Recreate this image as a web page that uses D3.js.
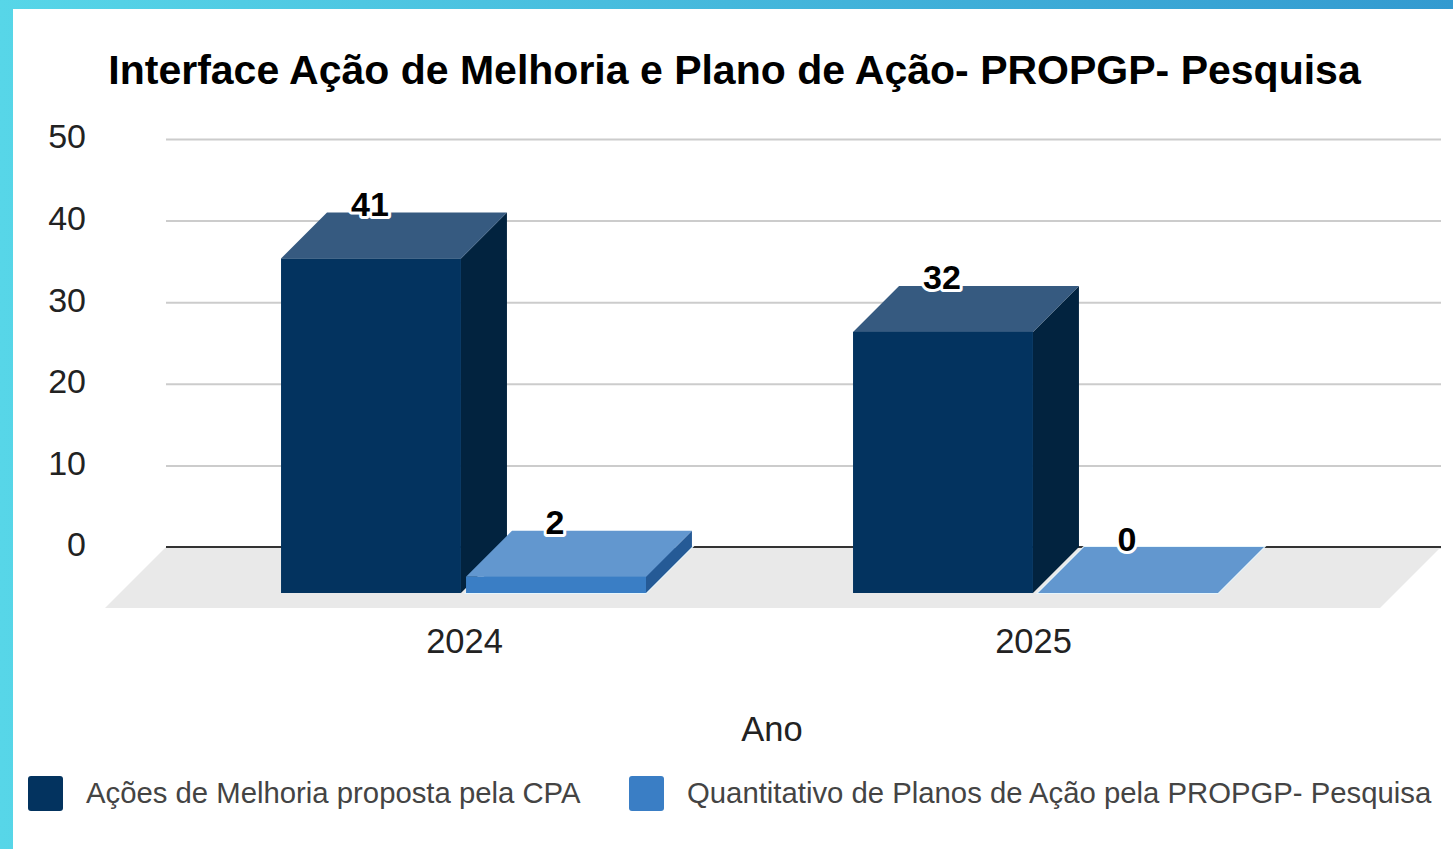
<!DOCTYPE html>
<html><head><meta charset="utf-8">
<script src="https://cdn.jsdelivr.net/npm/d3@7/dist/d3.min.js"></script>
<style>
html,body{margin:0;padding:0;background:#fff;overflow:hidden}
text{font-family:"Liberation Sans",Arial,sans-serif}
</style></head><body><svg id="c" width="1453" height="849"></svg>
<script>
const titleText = "Interface Ação de Melhoria e Plano de Ação- PROPGP- Pesquisa";
const xTitle = "Ano";
const categories = ["2024", "2025"];
const seriesNames = ["Ações de Melhoria proposta pela CPA", "Quantitativo de Planos de Ação pela PROPGP- Pesquisa"];
const melhoria = [41, 32];
const planos = [2, 0];
const yTicks = [0, 10, 20, 30, 40, 50];

const seriesValues = [melhoria, planos];
const W = 1453, H = 849;
const depth = 46, floorDepth = 61;
const svg = d3.select("#c");

const defs = svg.append("defs");
const g = defs.append("linearGradient").attr("id", "frame");
g.append("stop").attr("offset", "0").attr("stop-color", "#57d6e8");
g.append("stop").attr("offset", "1").attr("stop-color", "#339ad0");
svg.append("rect").attr("width", W).attr("height", H).attr("fill", "url(#frame)");
svg.append("rect").attr("x", 13).attr("y", 9).attr("width", W - 13).attr("height", H - 9).attr("fill", "#fff");

const y = d3.scaleLinear().domain([0, 50]).range([547, 139]);
const x0 = d3.scaleBand().domain(categories).range([177.5, 1321.5]).paddingInner(0.362).paddingOuter(0.181);
const x1 = d3.scaleBand().domain(seriesNames).range([0, x0.bandwidth()]).paddingInner(0.0274);
const xLabels = d3.scalePoint().domain(categories).range([464, 1033]);
const palette = d3.scaleOrdinal().domain(seriesNames).range([
  {front: "#03335f", side: "#02233f", top: "#365a80"},
  {front: "#3a7ec5", side: "#255a96", top: "#6297cf"}
]);

// title
svg.append("text").attr("x", 734.5).attr("y", 84).attr("text-anchor", "middle")
  .attr("font-size", 41).attr("font-weight", 700).attr("fill", "#000").text(titleText);

// gridlines and y labels through the axis
const yAxis = svg.append("g").attr("transform", "translate(166,0)")
  .call(d3.axisLeft(y).tickValues(yTicks).tickSize(-1275).tickPadding(80));
yAxis.select(".domain").remove();
yAxis.selectAll(".tick line").attr("stroke", "#cccccc").attr("stroke-width", 2);
yAxis.selectAll(".tick text").attr("font-size", 34).attr("fill", "#222").attr("dy", "0.26em")
  .attr("font-family", '"Liberation Sans",Arial,sans-serif');

// floor
const base = y(0);
svg.append("polygon")
  .attr("points", [[166, base], [1441, base], [1441 - floorDepth, base + floorDepth], [166 - floorDepth, base + floorDepth]].join(" "))
  .attr("fill", "#e9e9e9");
svg.append("line").attr("x1", 166).attr("x2", 1441).attr("y1", base).attr("y2", base)
  .attr("stroke", "#333").attr("stroke-width", 2);

// bars
const pts = a => a.map(p => p.join(",")).join(" ");
const bars = [];
categories.forEach((c, i) => seriesNames.forEach((s, j) => bars.push({c, s, j, v: seriesValues[j][i]})));
const gb = svg.selectAll("g.bar").data(bars).join("g").attr("class", "bar");
gb.each(function (d) {
  const sel = d3.select(this), col = palette(d.s);
  const xl = x0(d.c) + x1(d.s), w = x1.bandwidth(), xr = xl + w;
  const bot = y(0) + depth, top = y(d.v) + depth;
  if (d.j === 1) {
    sel.append("polygon")
      .attr("points", pts([[xl, bot], [xr, bot], [xr + depth, bot - depth], [xl + depth, bot - depth]]))
      .attr("fill", col.top).attr("stroke", "#e6f5fc").attr("stroke-width", 2);
  }
  if (d.v > 0) {
    sel.append("polygon").attr("points", pts([[xr, top], [xr + depth, top - depth], [xr + depth, bot - depth], [xr, bot]])).attr("fill", col.side);
    sel.append("polygon").attr("points", pts([[xl, top], [xr, top], [xr + depth, top - depth], [xl + depth, top - depth]])).attr("fill", col.top);
    sel.append("rect").attr("x", xl).attr("y", top).attr("width", w).attr("height", bot - top).attr("fill", col.front);
  } else {
    sel.append("polygon").attr("points", pts([[xl, top], [xr, top], [xr + depth, top - depth], [xl + depth, top - depth]])).attr("fill", col.top);
  }
});
gb.append("text")
  .attr("x", d => x0(d.c) + x1(d.s) + x1.bandwidth() / 2 - 1)
  .attr("y", d => y(d.v) + 3.5)
  .attr("text-anchor", "middle").attr("font-size", 34).attr("font-weight", 700)
  .attr("fill", "#000").attr("stroke", "#fff").attr("stroke-width", 6)
  .attr("stroke-linejoin", "round").attr("paint-order", "stroke")
  .text(d => d.v);

// x axis
const xAxis = svg.append("g").attr("transform", "translate(0,653)")
  .call(d3.axisBottom(xLabels).tickSize(0).tickPadding(0));
xAxis.select(".domain").remove();
xAxis.selectAll(".tick text").attr("font-size", 34.5).attr("fill", "#222").attr("dy", 0).attr("y", 0)
  .attr("font-family", '"Liberation Sans",Arial,sans-serif');
svg.append("text").attr("x", 772).attr("y", 741).attr("text-anchor", "middle")
  .attr("font-size", 34.5).attr("fill", "#222").text(xTitle);

// legend
const legendX = d3.scaleOrdinal().domain(seriesNames).range([28, 629]);
const lg = svg.selectAll("g.leg").data(seriesNames).join("g").attr("class", "leg")
  .attr("transform", d => `translate(${legendX(d)},776)`);
lg.append("rect").attr("width", 35).attr("height", 35).attr("rx", 3).attr("fill", d => palette(d).front);
lg.append("text").attr("x", 58).attr("y", 27).attr("font-size", 29.3).attr("fill", "#444").text(d => d);
</script></body></html>
